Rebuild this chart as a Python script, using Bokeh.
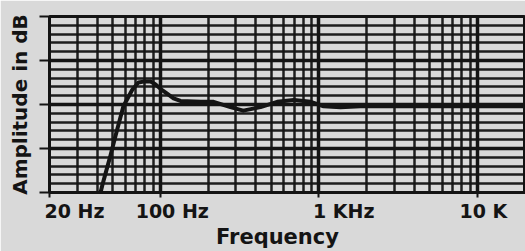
import math
from bokeh.plotting import figure
from bokeh.models import FixedTicker, Range1d, LogAxis, CustomJSTickFormatter
from bokeh.embed import file_html
from bokeh.resources import INLINE

# ---- data ----
freq_hz = [42, 43.2, 45.2, 48.5, 52.1, 58.5, 66.7, 72.8, 78.4, 86.8, 93, 103.3,
           111, 121.2, 134, 180, 217, 277, 334, 429, 546, 696, 889, 1073,
           1371, 1830, 3270, 5900, 10000, 20000]
amplitude_db = [-20, -19.1, -17.8, -15.8, -13.6, -10.2, -8.3, -7.5, -7.4, -7.4, -7.7, -8.4,
                -8.8, -9.3, -9.6, -9.7, -9.7, -10.3, -10.7, -10.3, -9.7, -9.5, -9.7, -10.2,
                -10.3, -10.2, -10.2, -10.2, -10.2, -10.2]

x_tick_values = [20, 100, 1000, 10000]
x_tick_labels = ["20 Hz", "100 Hz", "1 KHz", "10 K"]
x_title = "Frequency"
y_title = "Amplitude in dB"
x_minor_values = [m * d for d in (10, 100, 1000, 10000) for m in range(1, 10)
                  if 20 <= m * d <= 20000]
y_major_values = [-20, -15, -10, -5, 0]
y_minor_values = list(range(-20, 1))

BG = "#d9d9d9"
INK = "#141414"
FONT = "DejaVu Sans"

X_START, X_END = 20, 20140
W, H = 525, 251
LEFT, TOP, BOTTOM = 49, 16, 56
px_per_decade = (W - LEFT) / math.log10(X_END / X_START)

p = figure(width=W, height=H, x_axis_type="log",
           x_range=Range1d(X_START, X_END), y_range=Range1d(-20, 0),
           output_backend="svg", toolbar_location=None,
           min_border_left=LEFT, min_border_right=0,
           min_border_top=TOP, min_border_bottom=BOTTOM)
p.background_fill_color = BG
p.border_fill_color = BG
p.outline_line_color = INK
p.outline_line_width = 3

# grid
p.xgrid.ticker = FixedTicker(ticks=x_tick_values, minor_ticks=x_minor_values)
p.ygrid.ticker = FixedTicker(ticks=y_major_values, minor_ticks=y_minor_values)
for g in (p.xgrid, p.ygrid):
    g.grid_line_color = INK
    g.grid_line_width = 3.5
    g.grid_line_alpha = 1.0
    g.minor_grid_line_color = INK
    g.minor_grid_line_width = 2.5
    g.minor_grid_line_alpha = 0.95

# main x axis: tick marks only
p.xaxis.ticker = FixedTicker(ticks=x_tick_values)
p.xaxis.major_label_overrides = {v: "" for v in x_tick_values}
p.xaxis.major_label_text_font_size = "1px"
p.xaxis.major_label_standoff = 0
p.xaxis.major_tick_out = 5
p.xaxis.major_tick_in = 0
p.xaxis.minor_tick_out = 0
p.xaxis.major_tick_line_color = INK
p.xaxis.major_tick_line_width = 2
p.xaxis.axis_line_color = INK
p.xaxis.axis_line_width = 3

# label axis: tick labels sit slightly right of their ticks, as in the print
label_shift_px = [25, 12, 25, 6]
label_pos = [v * 10 ** (s / px_per_decade) for v, s in zip(x_tick_values, label_shift_px)]
lab_axis = LogAxis(ticker=FixedTicker(ticks=label_pos),
                   formatter=CustomJSTickFormatter(args=dict(labels=x_tick_labels),
                                                   code="return labels[index]"))
lab_axis.axis_line_color = None
lab_axis.major_tick_line_color = None
lab_axis.minor_tick_line_color = None
lab_axis.major_tick_out = 0
lab_axis.major_tick_in = 0
lab_axis.minor_tick_out = 0
lab_axis.major_label_standoff = 2
lab_axis.major_label_text_font = FONT
lab_axis.major_label_text_font_style = "bold"
lab_axis.major_label_text_font_size = "19px"
lab_axis.major_label_text_color = INK
p.add_layout(lab_axis, "below")

# title axis: "Frequency" centred where the print has it
title_pos = [X_START * 10 ** ((277 - LEFT) / px_per_decade)]
title_axis = LogAxis(ticker=FixedTicker(ticks=title_pos),
                     formatter=CustomJSTickFormatter(args=dict(t=x_title), code="return t"))
title_axis.axis_line_color = None
title_axis.major_tick_line_color = None
title_axis.minor_tick_line_color = None
title_axis.major_tick_out = 0
title_axis.major_tick_in = 0
title_axis.minor_tick_out = 0
title_axis.major_label_standoff = 0
title_axis.major_label_text_font = FONT
title_axis.major_label_text_font_style = "bold"
title_axis.major_label_text_font_size = "21px"
title_axis.major_label_text_color = INK
p.add_layout(title_axis, "below")

# y axis: ticks and title
p.yaxis.ticker = FixedTicker(ticks=y_major_values)
p.yaxis.major_label_overrides = {v: "" for v in y_major_values}
p.yaxis.major_label_text_font_size = "1px"
p.yaxis.major_label_standoff = 0
p.yaxis.major_tick_out = 10
p.yaxis.major_tick_in = 0
p.yaxis.minor_tick_out = 0
p.yaxis.major_tick_line_color = INK
p.yaxis.major_tick_line_width = 2
p.yaxis.axis_line_color = INK
p.yaxis.axis_line_width = 3
p.yaxis.axis_label = y_title
p.yaxis.axis_label_text_font = FONT
p.yaxis.axis_label_text_font_style = "bold"
p.yaxis.axis_label_text_font_size = "20px"
p.yaxis.axis_label_text_color = INK
p.yaxis.axis_label_standoff = 8

# response curve
p.line(freq_hz, amplitude_db, line_color=INK, line_width=4, line_join="round")

open("out.html", "w").write(file_html(p, INLINE))
